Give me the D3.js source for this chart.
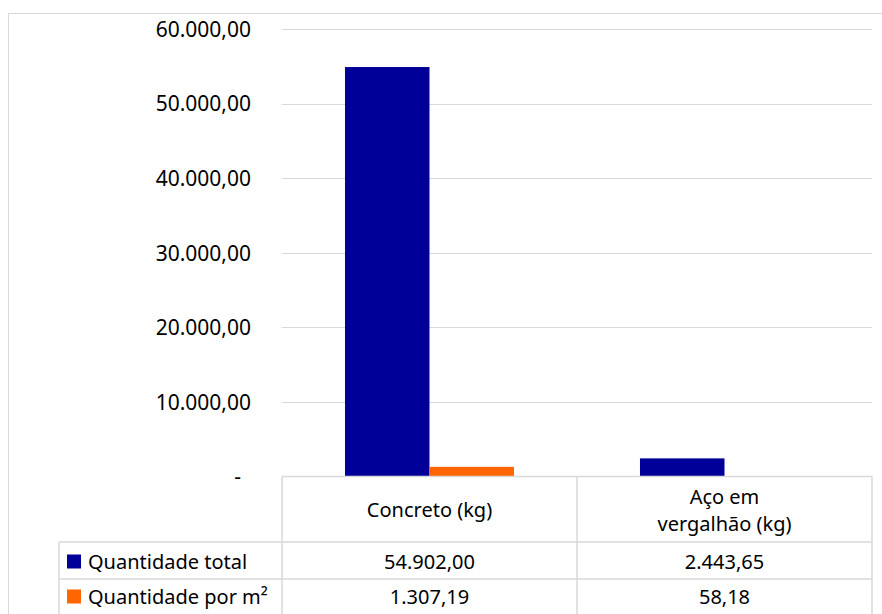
<!DOCTYPE html>
<html>
<head>
<meta charset="utf-8">
<script src="https://cdn.jsdelivr.net/npm/d3@7/dist/d3.min.js"></script>
<style>
  html, body { margin: 0; padding: 0; background: #fff; }
  svg { display: block; }
  text { font-family: "Noto Sans", "Open Sans", sans-serif; fill: #000; }
</style>
</head>
<body>
<svg id="chart" width="882" height="614"></svg>
<script>
// Categories (with line breaks as shown in the data table header)
const categories = ["Concreto (kg)", "Aço em vergalhão (kg)"];
const categoryLines = [["Concreto (kg)"], ["Aço em", "vergalhão (kg)"]];
// Series
const seriesNames = ["Quantidade total", "Quantidade por m²"];
const totalValues = [54902.00, 2443.65];
const perM2Values = [1307.19, 58.18];
const seriesColors = ["#000099", "#FF6600"];
// Y axis ticks
const yTicks = [0, 10000, 20000, 30000, 40000, 50000, 60000];

const series = [totalValues, perM2Values];

// pt-BR number format: 54.902,00
const ptBR = d3.formatLocale({ decimal: ",", thousands: ".", grouping: [3], currency: ["R$", ""] });
const fmt = ptBR.format(",.2f");
const tickLabel = v => v === 0 ? "-" : fmt(v);

const svg = d3.select("#chart");

const plot = { left: 282, right: 872, top: 29, bottom: 476.6 };
const table = { left: 59, top: 476.6, header: 542, row1: 579, row2: 616 };
const fontSize = 20;

// Outer chart frame
svg.append("rect")
  .attr("x", 8.5).attr("y", 13.5)
  .attr("width", 890).attr("height", 620)
  .attr("fill", "none").attr("stroke", "#d9d9d9").attr("stroke-width", 1);

const y = d3.scaleLinear().domain([0, 60000]).range([plot.bottom, plot.top]);
const x = d3.scaleBand().domain(categories).range([plot.left, plot.right])
  .paddingInner(0.427).paddingOuter(0.2135);
const xs = d3.scaleBand().domain(d3.range(series.length)).range([0, x.bandwidth()]).padding(0);

// Gridlines
svg.append("g")
  .selectAll("line")
  .data(yTicks.filter(t => t > 0))
  .join("line")
  .attr("x1", plot.left).attr("x2", plot.right)
  .attr("y1", d => Math.round(y(d)) + 0.5).attr("y2", d => Math.round(y(d)) + 0.5)
  .attr("stroke", "#d9d9d9").attr("stroke-width", 1);

// Y axis labels
const yAxis = d3.axisLeft(y).tickValues(yTicks).tickFormat(tickLabel).tickSize(0).tickPadding(0);
const yg = svg.append("g").attr("transform", `translate(251,0)`).call(yAxis);
yg.select(".domain").remove();
yg.selectAll("text")
  .attr("font-size", 21)
  .attr("font-family", "'Noto Sans', sans-serif")
  .attr("fill", "#000")
  .attr("dx", d => d === 0 ? -10 : 0)
  .attr("dy", "0.35em");

// Bars
const groups = svg.append("g").selectAll("g")
  .data(categories)
  .join("g")
  .attr("transform", d => `translate(${x(d)},0)`);

groups.selectAll("rect")
  .data((d, i) => series.map((s, k) => ({ k, v: s[i] })))
  .join("rect")
  .attr("x", d => xs(d.k))
  .attr("width", xs.bandwidth())
  .attr("y", d => y(d.v))
  .attr("height", d => y(0) - y(d.v))
  .attr("fill", d => seriesColors[d.k]);

// Data table
const tg = svg.append("g");
const lineColor = "#d9d9d9";
const bounds = [plot.left, plot.left + x.step(), plot.right];

function hline(x1, x2, yy) {
  tg.append("line").attr("x1", x1).attr("x2", x2).attr("y1", yy).attr("y2", yy)
    .attr("stroke", lineColor).attr("stroke-width", 1.5);
}
function vline(xx, y1, y2) {
  tg.append("line").attr("x1", xx).attr("x2", xx).attr("y1", y1).attr("y2", y2)
    .attr("stroke", lineColor).attr("stroke-width", 1.5);
}
hline(plot.left, plot.right, table.top);
hline(table.left, plot.right, table.header);
hline(table.left, plot.right, table.row1);
bounds.forEach(b => vline(b, table.top, table.row2));
vline(table.left, table.header, table.row2);

// Header category labels
categories.forEach((c, i) => {
  const cx = x(c) + x.bandwidth() / 2;
  const lines = categoryLines[i];
  const mid = (table.top + table.header) / 2 + 1;
  lines.forEach((ln, j) => {
    tg.append("text")
      .attr("x", cx)
      .attr("y", mid + (j - (lines.length - 1) / 2) * 27)
      .attr("dy", "0.35em")
      .attr("text-anchor", "middle")
      .attr("font-size", fontSize)
      .text(ln);
  });
});

// Rows: legend key + values
const rowMids = [(table.header + table.row1) / 2 + 1, (table.row1 + table.row2) / 2 - 1];
seriesNames.forEach((name, k) => {
  const my = rowMids[k];
  tg.append("rect")
    .attr("x", 67).attr("y", my - 7).attr("width", 14).attr("height", 14)
    .attr("fill", seriesColors[k]);
  tg.append("text")
    .attr("x", 88).attr("y", my).attr("dy", "0.35em")
    .attr("font-size", fontSize)
    .text(name);
  categories.forEach((c, i) => {
    tg.append("text")
      .attr("x", x(c) + x.bandwidth() / 2)
      .attr("y", my).attr("dy", "0.35em")
      .attr("text-anchor", "middle")
      .attr("font-size", fontSize)
      .text(fmt(series[k][i]));
  });
});
</script>
</body>
</html>
